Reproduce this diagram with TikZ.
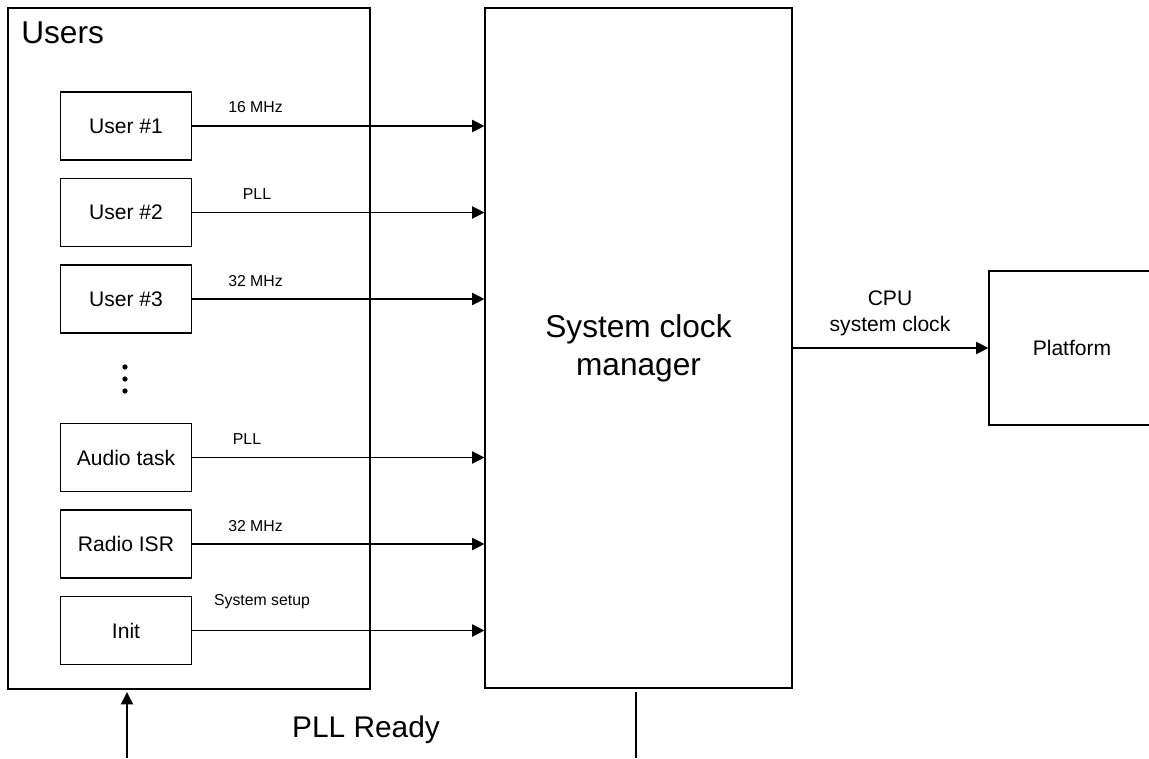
\documentclass[tikz,border=0pt]{standalone}
\usepackage{fontspec}
\setmainfont{Liberation Sans}
\usetikzlibrary{arrows.meta, positioning}

\tikzset{
    blk/.style={draw, line width=0.7pt, inner sep=0pt},
    userbox/.style={blk, minimum width=2.62cm, minimum height=1.36cm,
        font=\fontsize{12}{14}\selectfont},
    sig/.style={anchor=base, inner sep=0pt, font=\fontsize{9}{10}\selectfont},
    link/.style={->, line width=0.7pt},
}

\begin{document}
\begin{tikzpicture}[x=0.02cm, y=-0.02cm, > = {Triangle[length=7pt, width=7pt]}]
    \def\r{1.5pt}
    \useasboundingbox (0, 0) rectangle (1149, 758);
    % Users
    %% Frame
    \node [blk, minimum width=7.24cm, minimum height=13.62cm] (users) at (189, 348.5) {};
    \node [anchor=north west, inner sep=0pt, font=\fontsize{18}{22}\selectfont]
        (userstitle) at (21, 21.5) {Users};
    %% Blocks
    \node [userbox] (user1) at (126, 126) {User \#1};
    \node [userbox] (user2) at (126, 212.5) {User \#2};
    \node [userbox] (user3) at (126, 299) {User \#3};
    \node [userbox] (audio) at (126, 457.5) {Audio task};
    \node [userbox] (radio) at (126, 544) {Radio ISR};
    \node [userbox] (init) at (126, 630.5) {Init};
    %% Dots
    \fill
        (125, 367) circle (\r)
        (125, 379) circle (\r)
        (125, 391) circle (\r);

    % Manager and platform
    \node [blk, minimum width=6.14cm, minimum height=13.6cm, align=center,
        font=\fontsize{18}{21.6}\selectfont] (mgr) at (638.5, 348) {System clock\\manager};
    \node [blk, minimum width=3.32cm, minimum height=3.08cm,
        font=\fontsize{12}{14}\selectfont] (platform) at (1072, 348) {Platform};

    % Requests
    \foreach \u in {user1, user2, user3, audio, radio, init}
        \draw [link] (\u.east) -- (\u.east -| mgr.west);
    %% Annotations
    \node [sig] (req1) at (255.5, 112) {16 MHz};
    \node [sig] (req2) at (257, 199) {PLL};
    \node [sig] (req3) at (255.5, 286) {32 MHz};
    \node [sig] (req4) at (247, 444) {PLL};
    \node [sig] (req5) at (255.5, 531) {32 MHz};
    \node [sig] (req6) at (262, 605) {System setup};

    % CPU clock
    \draw [link] (mgr.east |- platform.west) -- (platform.west);
    \node [align=center, inner sep=0pt, font=\fontsize{12}{14.7}\selectfont]
        (cpuclk) at (890, 313) {CPU\\system clock};

    % PLL ready
    \coordinate (pllin) at (127, 758);
    \coordinate (pllout) at (636, 758);
    \draw [link, shorten >=1.5pt] (pllin) -- (pllin |- users.south);
    \draw [line width=0.7pt, shorten <=2pt] (pllout |- mgr.south) -- (pllout);
    \node [anchor=base, font=\fontsize{17}{20}\selectfont] (pllready) at (366, 737) {PLL Ready};
\end{tikzpicture}
\end{document}
